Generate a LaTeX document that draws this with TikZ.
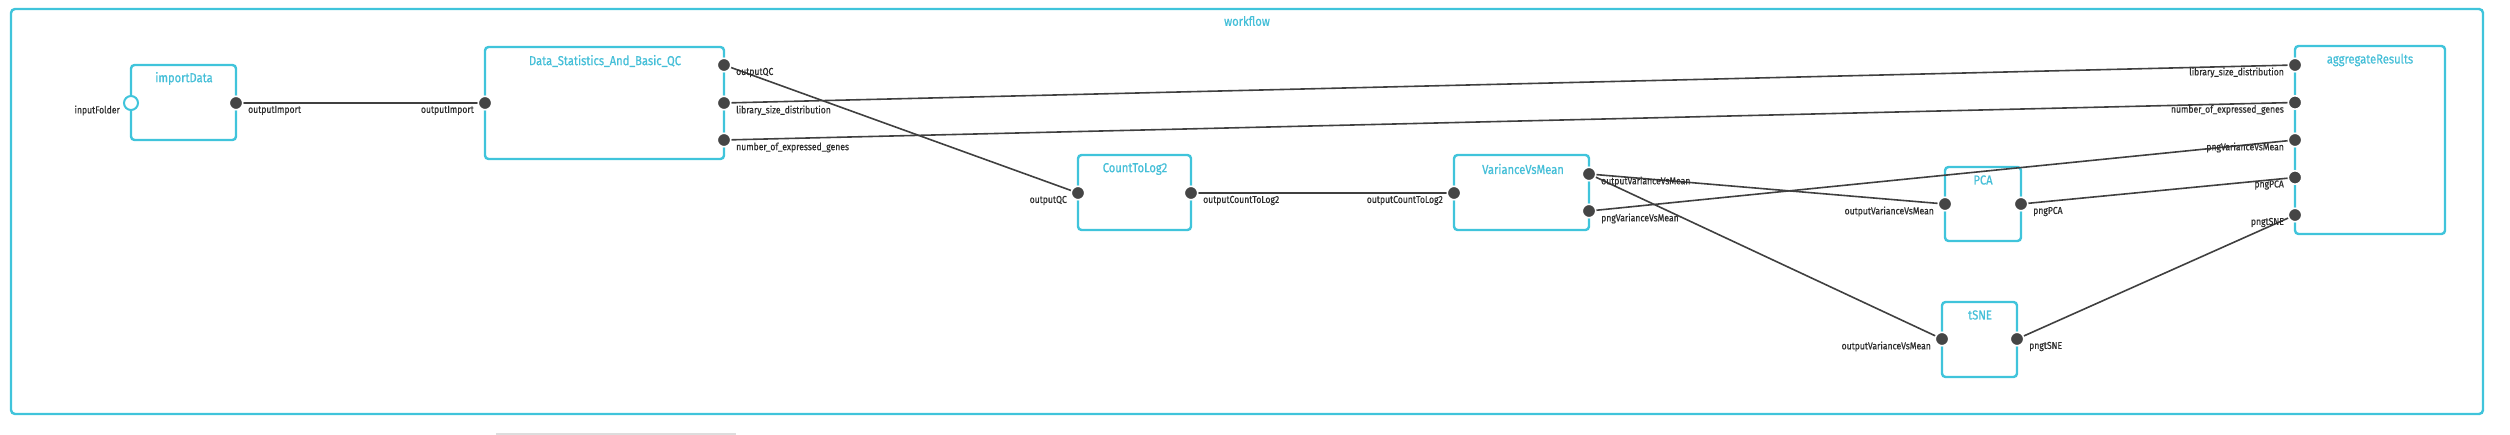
\documentclass[tikz,border=0pt]{standalone}
\usepackage{fontspec}
\newfontfamily\tfont{Fira Sans}[FakeStretch=0.86]
\newfontfamily\lfont{Fira Sans}[FakeStretch=0.86,FakeBold=0.6]
\usetikzlibrary{calc}
\definecolor{boxc}{HTML}{40C4DB}
\definecolor{titlec}{HTML}{45BFD8}
\definecolor{portc}{HTML}{454545}
\definecolor{wirec}{HTML}{404040}
\definecolor{lblc}{HTML}{2E2E2E}
\definecolor{scrollc}{HTML}{DDDDDD}
\pgfdeclarelayer{boxes}
\pgfdeclarelayer{wires}
\pgfsetlayers{boxes,wires,main}
\begin{document}
\begin{tikzpicture}[x=1pt,y=-1pt,
  wfbox/.style={draw=boxc, line width=2.4pt, rounded corners=4pt, inner sep=0pt},
  stepbox/.style={draw=boxc, line width=2.4pt, rounded corners=3.5pt, inner sep=0pt, fill=white},
  ttl/.style={text=titlec, font=\lfont\fontsize{13}{15}\selectfont, inner sep=0pt, anchor=center},
  port/.style={circle, fill=portc, draw=white, line width=1.6pt, minimum size=13.5pt, inner sep=0pt},
  openport/.style={circle, fill=white, draw=boxc, line width=2pt, minimum size=14pt, inner sep=0pt},
  lblr/.style={text=lblc, font=\lfont\fontsize{10}{12}\selectfont, inner sep=0pt, anchor=west},
  lbll/.style={text=lblc, font=\lfont\fontsize{10}{12}\selectfont, inner sep=0pt, anchor=east},
  wire/.style={draw=wirec, line width=1.6pt}]
\useasboundingbox (0,0) rectangle (2510,435);

\begin{pgfonlayer}{boxes}
\node[wfbox, minimum width=2472pt, minimum height=405pt] (wf) at (1247,211.5) {};
\node[stepbox, minimum width=105pt, minimum height=75pt] (imp) at (183.5,102.5) {};
\node[stepbox, minimum width=239pt, minimum height=112pt] (dsqc) at (604.5,103) {};
\node[stepbox, minimum width=113pt, minimum height=75pt] (ctl) at (1134.5,192.5) {};
\node[stepbox, minimum width=135pt, minimum height=75pt] (vvm) at (1521.5,192.5) {};
\node[stepbox, minimum width=76pt, minimum height=74pt] (pca) at (1983,204) {};
\node[stepbox, minimum width=75pt, minimum height=75pt] (tsne) at (1979.5,339.5) {};
\node[stepbox, minimum width=150pt, minimum height=188pt] (agg) at (2370,140) {};
\end{pgfonlayer}

\draw[scrollc, line width=1.5pt] (496,434) -- (736,434);

% titles
\node[ttl] (twf) at (1247,21) {workflow};
\node[ttl] (timp) at (184,78.5) {importData};
\node[ttl] (tdsqc) at (605,61) {Data\_Statistics\_And\_Basic\_QC};
\node[ttl] (tctl) at (1135,169) {CountToLog2};
\node[ttl] (tvvm) at (1523,169) {VarianceVsMean};
\node[ttl] (tpca) at (1983,180) {PCA};
\node[ttl] (ttsne) at (1980,315) {tSNE};
\node[ttl] (tagg) at (2370,60) {aggregateResults};

% ports
\node[openport] (impIn) at (131,103) {};
\node[port] (impOut) at (236,103) {};
\node[port] (dsIn) at (485,103) {};
\node[port] (dsQC) at (724,65) {};
\node[port] (dsLib) at (724,103) {};
\node[port] (dsNum) at (724,140) {};
\node[port] (ctlIn) at (1078,193) {};
\node[port] (ctlOut) at (1191,193) {};
\node[port] (vvmIn) at (1454,193) {};
\node[port] (vvmOut) at (1589,174) {};
\node[port] (vvmPng) at (1589,211) {};
\node[port] (pcaIn) at (1945,204) {};
\node[port] (pcaOut) at (2021,204) {};
\node[port] (tsIn) at (1942,339) {};
\node[port] (tsOut) at (2017,339) {};
\node[port] (agLib) at (2295,65) {};
\node[port] (agNum) at (2295,102.5) {};
\node[port] (agVvm) at (2295,140) {};
\node[port] (agPca) at (2295,177.5) {};
\node[port] (agTs) at (2295,215) {};

% labels
\node[lbll] (l1) at ($(impIn)+(-11,7.5)$) {inputFolder};
\node[lblr] (l2) at ($(impOut)+(12,7.5)$) {outputImport};
\node[lbll] (l3) at ($(dsIn)+(-11,7.5)$) {outputImport};
\node[lblr] (l4) at ($(dsQC)+(12,7.5)$) {outputQC};
\node[lblr] (l5) at ($(dsLib)+(12,7.5)$) {library\_size\_distribution};
\node[lblr] (l6) at ($(dsNum)+(12,7.5)$) {number\_of\_expressed\_genes};
\node[lbll] (l7) at ($(ctlIn)+(-11,7.5)$) {outputQC};
\node[lblr] (l8) at ($(ctlOut)+(12,7.5)$) {outputCountToLog2};
\node[lbll] (l9) at ($(vvmIn)+(-11,7.5)$) {outputCountToLog2};
\node[lblr] (l10) at ($(vvmOut)+(12,7.5)$) {outputVarianceVsMean};
\node[lblr] (l11) at ($(vvmPng)+(12,7.5)$) {pngVarianceVsMean};
\node[lbll] (l12) at ($(pcaIn)+(-11,7.5)$) {outputVarianceVsMean};
\node[lblr] (l13) at ($(pcaOut)+(12,7.5)$) {pngPCA};
\node[lbll] (l14) at ($(tsIn)+(-11,7.5)$) {outputVarianceVsMean};
\node[lblr] (l15) at ($(tsOut)+(12,7.5)$) {pngtSNE};
\node[lbll] (l16) at ($(agLib)+(-11,7.5)$) {library\_size\_distribution};
\node[lbll] (l17) at ($(agNum)+(-11,7.5)$) {number\_of\_expressed\_genes};
\node[lbll] (l18) at ($(agVvm)+(-11,7.5)$) {pngVarianceVsMean};
\node[lbll] (l19) at ($(agPca)+(-11,7.5)$) {pngPCA};
\node[lbll] (l20) at ($(agTs)+(-11,7.5)$) {pngtSNE};

% wires
\begin{pgfonlayer}{wires}
\draw[wire] (impOut.center) -- (dsIn.center);
\draw[wire] (dsQC.center) -- (ctlIn.center);
\draw[wire] (dsLib.center) -- (agLib.center);
\draw[wire] (dsNum.center) -- (agNum.center);
\draw[wire] (ctlOut.center) -- (vvmIn.center);
\draw[wire] (vvmOut.center) -- (pcaIn.center);
\draw[wire] (vvmOut.center) -- (tsIn.center);
\draw[wire] (vvmPng.center) -- (agVvm.center);
\draw[wire] (pcaOut.center) -- (agPca.center);
\draw[wire] (tsOut.center) -- (agTs.center);
\end{pgfonlayer}
\end{tikzpicture}
\end{document}
